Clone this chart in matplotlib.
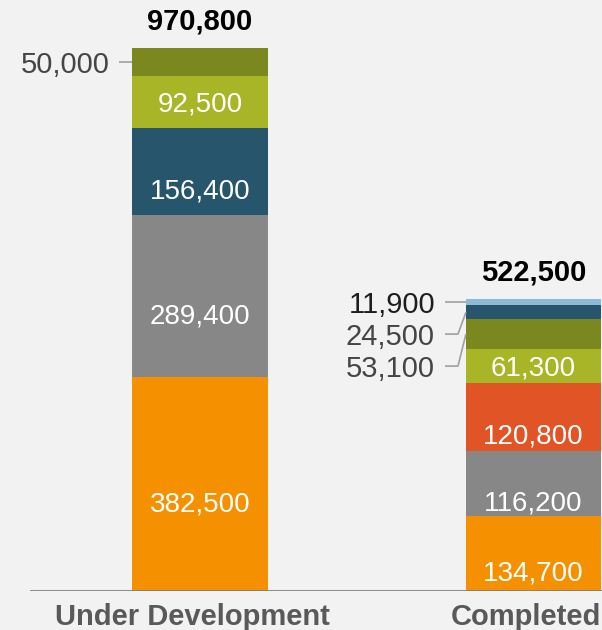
import numpy as np
import matplotlib.pyplot as plt

plt.rcParams['font.family'] = ['Liberation Sans', 'DejaVu Sans']

# data (segments listed bottom -> top)
categories = ["Under Development", "Completed"]
dev_values = [382500, 289400, 156400, 92500, 50000]
comp_values = [134700, 116200, 120800, 61300, 53100, 24500, 11900]

# styles
BG = "#f2f2f2"
ORANGE = "#f59100"
GREY = "#878787"
NAVY = "#27556c"
LIME = "#a7b527"
OLIVE = "#7b871f"
RED = "#e05425"
SKY = "#8dbad6"
dev_colors = [ORANGE, GREY, NAVY, LIME, OLIVE]
comp_colors = [ORANGE, GREY, RED, LIME, OLIVE, NAVY, SKY]
label_gap = [23, 31]   # px between outside label and bar edge

fig = plt.figure(figsize=(6.02, 6.30), dpi=100, facecolor=BG)
ax = fig.add_axes([0, 39 / 630, 1, 591 / 630])
ax.set_facecolor(BG)
x0, x1 = -0.5997, 1.2054
y1 = 1056600
ax.set_xlim(x0, x1)
ax.set_ylim(0, y1)
ax.axis("off")

px_x = (x1 - x0) / 602     # data per pixel
px_y = y1 / 591
bar_w = 0.405
small = 31 * px_y          # segments thinner than this get outside labels

ax.axhline(0, xmin=31 / 602, xmax=1, color="#7f7f7f", lw=2, zorder=3)

for i, (vals, cols) in enumerate([(dev_values, dev_colors), (comp_values, comp_colors)]):
    vals = np.array(vals)
    bottoms = np.concatenate([[0], np.cumsum(vals)[:-1]])
    ax.bar(i, vals, bar_w, bottom=bottoms, color=cols, linewidth=0)
    total = vals.sum()
    ax.text(i, total + 18 * px_y, f"{total:,}", ha="center", va="baseline",
            fontsize=21, fontweight="bold", color="black")
    ax.text(i - 8 * px_x, -12 * px_y, categories[i], ha="center", va="top",
            fontsize=21, fontweight="bold", color="#595959")

    # inside labels
    for v, b in zip(vals, bottoms):
        if v < small:
            continue
        yc = b + v / 2
        if v > 60 * px_y:
            yc -= 17 * px_y
        ax.text(i, yc, f"{v:,}", ha="center", va="center_baseline",
                fontsize=20, color="white")

    # outside labels, stacked downward from the top
    left = i - bar_w / 2
    gap = label_gap[i]
    prev = None
    for k, (v, b) in enumerate(list(zip(vals, bottoms))[::-1]):
        if v >= small:
            continue
        yc = b + v / 2
        ly = yc if prev is None else min(yc, prev - 32 * px_y)
        prev = ly
        col = "#1e1e1e" if (i == 1 and k == 0) else "#454545"
        ax.text(left - gap * px_x, ly, f"{v:,}", ha="right", va="center_baseline",
                fontsize=21, color=col)
        ax.plot([left - (gap - 10) * px_x, left - 8 * px_x, left], [ly, ly, yc],
                color="#a0a0a0", lw=1.2, solid_capstyle="butt")

fig.savefig("out.png", dpi=100, facecolor=BG)
